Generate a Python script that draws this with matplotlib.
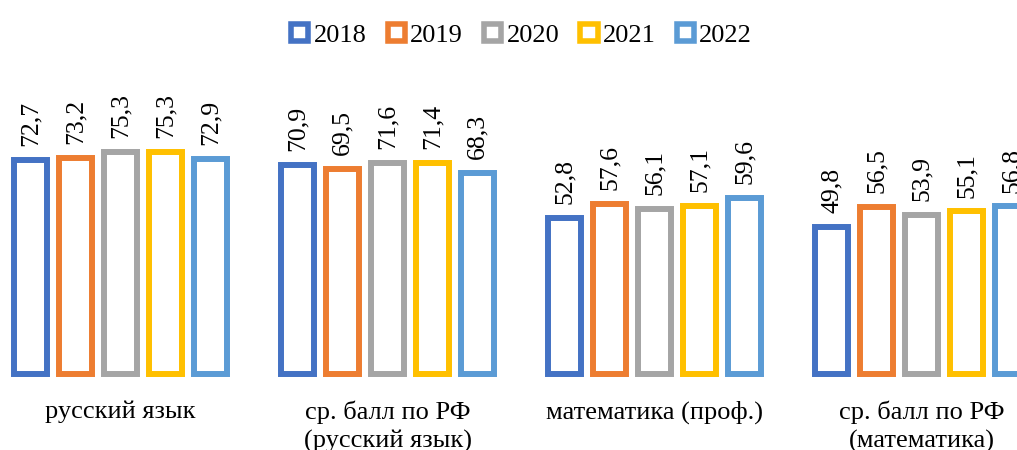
import numpy as np
import matplotlib
matplotlib.use("Agg")
import matplotlib.pyplot as plt
from matplotlib.patches import Patch

plt.rcParams['font.family'] = ['Liberation Serif', 'DejaVu Serif']

categories = ["русский язык", "ср. балл по РФ\n(русский язык)",
              "математика (проф.)", "ср. балл по РФ\n(математика)"]
years = ["2018", "2019", "2020", "2021", "2022"]
colors = ["#4472C4", "#ED7D31", "#A5A5A5", "#FFC000", "#5B9BD5"]

v2018 = [72.7, 70.9, 52.8, 49.8]
v2019 = [73.2, 69.5, 57.6, 56.5]
v2020 = [75.3, 71.6, 56.1, 53.9]
v2021 = [75.3, 71.4, 57.1, 55.1]
v2022 = [72.9, 68.3, 59.6, 56.8]
series = [v2018, v2019, v2020, v2021, v2022]

fig = plt.figure(figsize=(10.17, 4.5), dpi=100)
ax = fig.add_axes([0, 76 / 450, 1, 314 / 450])

x = np.arange(len(categories))
step = 45 / 267
width = 33 / 267
for i, (vals, col) in enumerate(zip(series, colors)):
    pos = x + (i - 2) * step
    bars = ax.bar(pos, vals, width, facecolor="white", edgecolor=col,
                  linewidth=4.3, clip_on=False)
    for b, v in zip(bars, vals):
        ax.annotate(f"{v:.1f}".replace(".", ","),
                    (b.get_x() + b.get_width() / 2, v),
                    xytext=(0, 10), textcoords="offset points",
                    rotation=90, ha="center", va="bottom", fontsize=18.5,
                    annotation_clip=False)

ax.set_xlim(-120.5 / 267, (1017 - 120.5) / 267)
ax.set_ylim(0, 314 / 2.95)
ax.set_xticks(x)
ax.set_xticklabels(categories, fontsize=19, linespacing=1.35)
ax.tick_params(axis="x", length=0, pad=19)
ax.set_yticks([])
for s in ax.spines.values():
    s.set_visible(False)

handles = [Patch(facecolor="white", edgecolor=c, linewidth=4, label=y)
           for c, y in zip(colors, years)]
fig.legend(handles=handles, loc="upper center", bbox_to_anchor=(0.513, 1.0),
           ncol=5, frameon=False, fontsize=19, handlelength=0.65,
           handleheight=0.65, handletextpad=0.2, columnspacing=0.8)

fig.savefig("out.png", dpi=100)
